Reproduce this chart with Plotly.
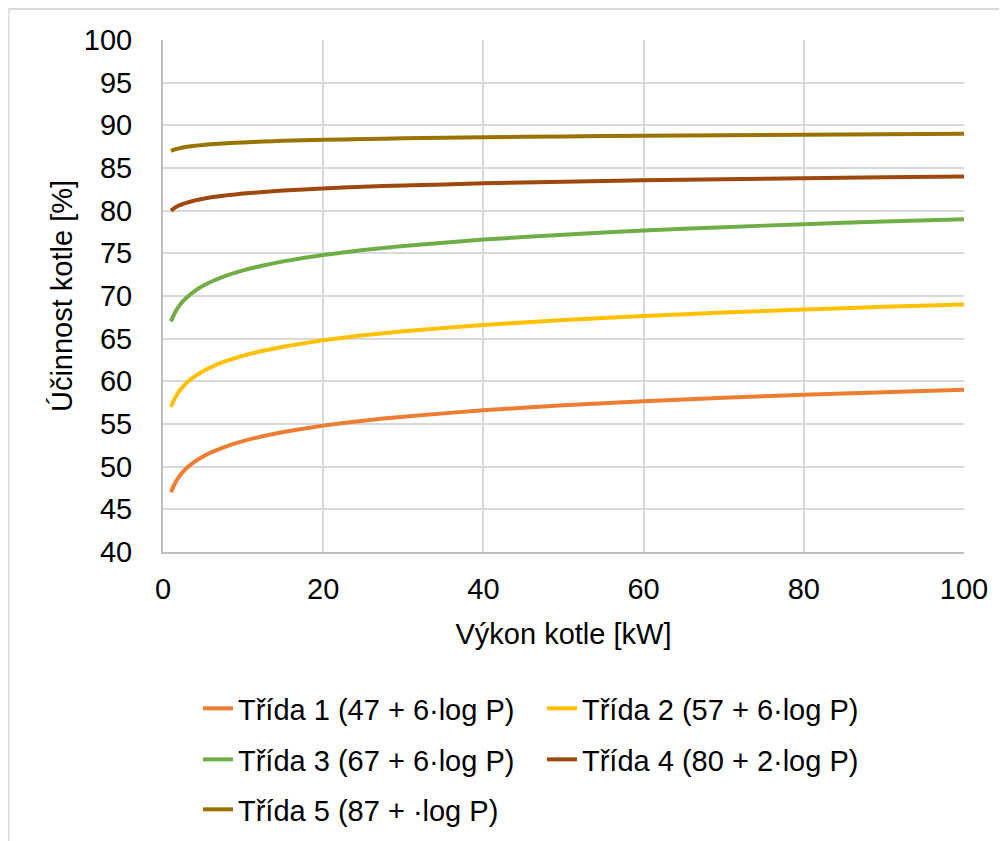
import plotly.graph_objects as go

# Data
power_kw = [1, 1.25, 1.5, 1.75, 2, 2.5, 3, 4, 5, 6, 8, 10, 12.5, 15, 20, 25, 30, 40, 50, 60, 70, 80, 90, 100]
trida1 = [47.00, 47.58, 48.06, 48.46, 48.81, 49.39, 49.86, 50.61, 51.19, 51.67, 52.42, 53.00,
          53.58, 54.06, 54.81, 55.39, 55.86, 56.61, 57.19, 57.67, 58.07, 58.42, 58.73, 59.00]
trida2 = [57.00, 57.58, 58.06, 58.46, 58.81, 59.39, 59.86, 60.61, 61.19, 61.67, 62.42, 63.00,
          63.58, 64.06, 64.81, 65.39, 65.86, 66.61, 67.19, 67.67, 68.07, 68.42, 68.73, 69.00]
trida3 = [67.00, 67.58, 68.06, 68.46, 68.81, 69.39, 69.86, 70.61, 71.19, 71.67, 72.42, 73.00,
          73.58, 74.06, 74.81, 75.39, 75.86, 76.61, 77.19, 77.67, 78.07, 78.42, 78.73, 79.00]
trida4 = [80.00, 80.19, 80.35, 80.49, 80.60, 80.80, 80.95, 81.20, 81.40, 81.56, 81.81, 82.00,
          82.19, 82.35, 82.60, 82.80, 82.95, 83.20, 83.40, 83.56, 83.69, 83.81, 83.91, 84.00]
trida5 = [87.00, 87.10, 87.18, 87.24, 87.30, 87.40, 87.48, 87.60, 87.70, 87.78, 87.90, 88.00,
          88.10, 88.18, 88.30, 88.40, 88.48, 88.60, 88.70, 88.78, 88.85, 88.90, 88.95, 89.00]

series_names = [
    "Třída 1 (47 + 6·log P)",
    "Třída 2 (57 + 6·log P)",
    "Třída 3 (67 + 6·log P)",
    "Třída 4 (80 + 2·log P)",
    "Třída 5 (87 + ·log P)",
]
series_values = [trida1, trida2, trida3, trida4, trida5]
colors = ["#ED7D31", "#FFC000", "#70AD47", "#9E480E", "#997300"]
legend_rows = ["legend", "legend", "legend2", "legend2", "legend3"]

x_ticks = [0, 20, 40, 60, 80, 100]
y_ticks = [40, 45, 50, 55, 60, 65, 70, 75, 80, 85, 90, 95, 100]

FONT = "Liberation Sans, Arial, sans-serif"
FS = 29

fig = go.Figure()
for name, vals, col, lg in zip(series_names, series_values, colors, legend_rows):
    fig.add_trace(go.Scatter(
        x=power_kw, y=vals, name=name, mode="lines", legend=lg,
        line=dict(color=col, width=4, shape="spline", smoothing=0.4),
    ))

W, H = 999, 833
L, R, T, B = 155, 43, 32, 289
pw, ph = W - L - R, H - T - B


def px_x(p):
    return (p - L) / pw


def px_y(p):
    return (H - B - p) / ph


def legend_cfg(top):
    return dict(
        orientation="h", x=px_x(190), y=px_y(top), xanchor="left", yanchor="top",
        entrywidth=299, entrywidthmode="pixels",
        font=dict(family=FONT, size=FS, color="#000000"),
        itemwidth=30, traceorder="normal", bgcolor="rgba(0,0,0,0)",
    )


fig.update_layout(
    width=W, height=H,
    margin=dict(l=L, r=R, t=T, b=B, autoexpand=False),
    paper_bgcolor="white", plot_bgcolor="white",
    font=dict(family=FONT, size=FS, color="#000000"),
    showlegend=True,
    legend=legend_cfg(675),
    legend2=legend_cfg(726),
    legend3=legend_cfg(776),
    xaxis=dict(
        range=[0, 100], tickvals=x_ticks, ticktext=[str(v) for v in x_ticks],
        showgrid=True, gridcolor="#D9D9D9", gridwidth=1.5,
        showline=True, linecolor="#BFBFBF", linewidth=2,
        zeroline=False, ticks="", ticklabelstandoff=10,
        title=dict(text="Výkon kotle [kW]", font=dict(size=FS), standoff=20),
        tickfont=dict(size=FS),
    ),
    yaxis=dict(
        range=[40, 100], tickvals=y_ticks, ticktext=[str(v) for v in y_ticks],
        showgrid=True, gridcolor="#D9D9D9", gridwidth=1.5,
        showline=True, linecolor="#BFBFBF", linewidth=2,
        zeroline=False, ticks="", ticklabelstandoff=23,
        title=dict(text="Účinnost kotle [%]", font=dict(size=FS), standoff=3),
        tickfont=dict(size=FS),
    ),
    shapes=[
        dict(type="line", xref="paper", yref="paper",
             x0=px_x(0.5), x1=px_x(1100), y0=px_y(1), y1=px_y(1),
             line=dict(color="#D9D9D9", width=2)),
        dict(type="line", xref="paper", yref="paper",
             x0=px_x(0.5), x1=px_x(0.5), y0=px_y(1), y1=px_y(900),
             line=dict(color="#D9D9D9", width=2)),
    ],
)

fig.write_html("out.html")
